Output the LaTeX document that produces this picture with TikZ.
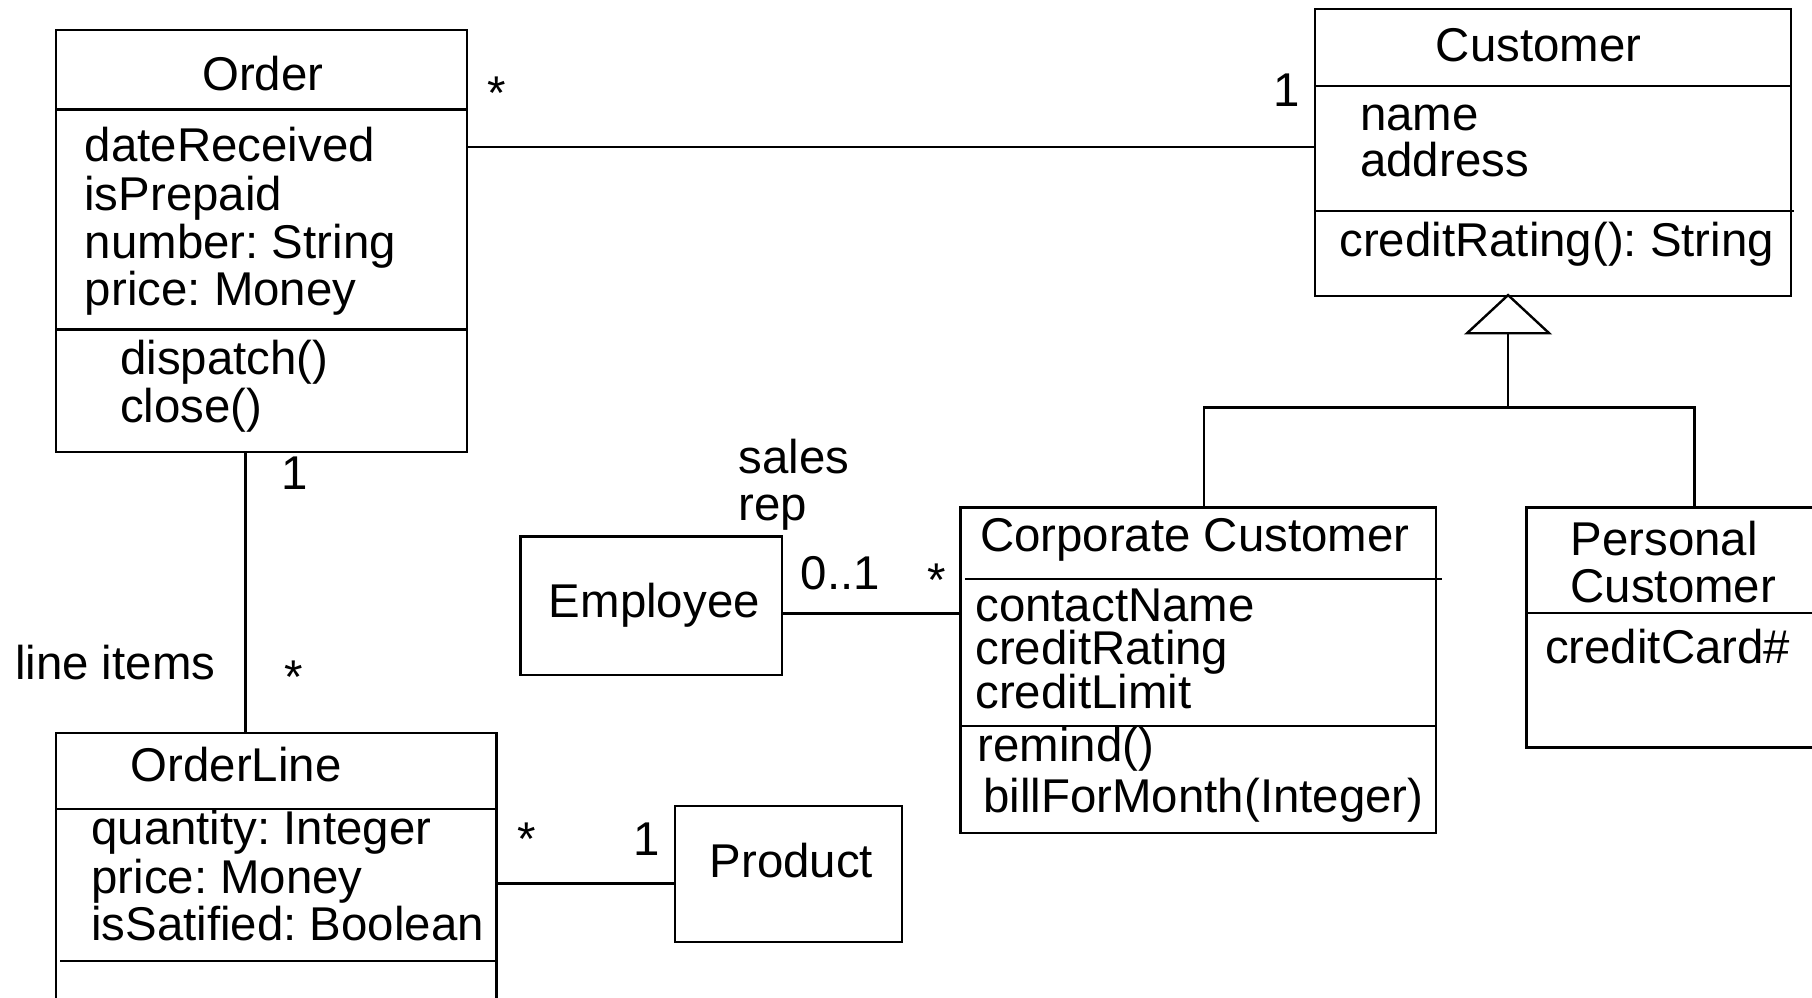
\documentclass[tikz,border=0pt]{standalone}
\usepackage{fontspec}
\setmainfont{Liberation Sans}
\usetikzlibrary{fit,arrows.meta}
\frenchspacing
\begin{document}
\begin{tikzpicture}[x=0.5778pt,y=-0.5778pt, line width=1.2pt,
  box/.style={draw, rectangle, inner sep=0pt},
  txt/.style={inner sep=0pt, anchor=base west, font=\fontsize{23.7pt}{28pt}\selectfont},
  lbl/.style={inner sep=0pt, anchor=base, font=\fontsize{23.7pt}{28pt}\selectfont},
  conn/.style={draw, line width=1.2pt}]
\clip (0,0) rectangle (1568,863);
\fill[white] (0,0) rectangle (1568,863);

% ---- boxes ----
\node[box, fit={(48.7,26) (404,390.9)}] (order) {};
\draw (order.west |- 0,94.6) -- (order.east |- 0,94.6);
\draw (order.west |- 0,285) -- (order.east |- 0,285);

\node[box, fit={(1138,8) (1550,256)}] (cust) {};
\draw (cust.west |- 0,74.4) -- (cust.east |- 0,74.4);
\draw (cust.west |- 0,182.6) -- (1552.6,182.6);

\node[box, fit={(831,439) (1242.6,721)}] (corp) {};
\draw (835,501) -- (1247.7,501);
\draw (corp.west |- 0,628.3) -- (corp.east |- 0,628.3);

\node[box, fit={(1320.8,439.3) (1640,646.7)}] (pers) {};
\draw (pers.west |- 0,530.6) -- (pers.east |- 0,530.6);

\node[box, fit={(450.4,464.4) (676.9,584.3)}] (emp) {};
\node[box, fit={(584,697.4) (780.5,815.2)}] (prod) {};

\node[box, fit={(48.7,634.5) (429.6,920)}] (ol) {};
\draw (ol.west |- 0,699.8) -- (ol.east |- 0,699.8);
\draw (52.3,831.4) -- (ol.east |- 0,831.4);

% ---- connectors ----
\coordinate (ocY) at (0,127.2);
\draw[conn] (order.east |- ocY) -- (cust.west |- ocY);
\draw[conn] (212.3,0 |- order.south) -- (212.3,0 |- ol.north);
\draw[conn] (emp.east |- 0,531) -- (corp.west |- 0,531);
\draw[conn] (ol.east |- 0,764.4) -- (prod.west |- 0,764.4);

\coordinate (gj) at (1305,352.5);
\draw[conn, shorten >=-1.8pt, -{Triangle[open, length=20.5pt, width=43.9pt]}] (gj) -- (1305,0 |- cust.south);
\draw[conn] (1041.9,0 |- corp.north) |- (gj) -| (1466.4,0 |- pers.north);

% ---- texts ----
\node[txt] (tOrder) at (174,78) {Order};
\node[txt] (tO1) at (72.5,140) {dateReceived};
\node[txt] (tO2) at (72,182) {isPrepaid};
\node[txt] (tO3) at (72.5,223.5) {number: String};
\node[txt] (tO4) at (72.5,264) {price: Money};
\node[txt] (tO5) at (103,324.5) {dispatch()};
\node[txt] (tO6) at (103,366) {close()};

\node[txt] (tCust) at (1241.5,53.4) {Customer};
\node[txt] (tC1) at (1176,112.5) {name};
\node[txt] (tC2) at (1176,153) {address};
\node[txt] (tC3) at (1158,222) {creditRating(): String};

\node[txt] (tCorp) at (847,477.4) {Corporate Customer};
\node[txt] (tK1) at (843,538) {contactName};
\node[txt] (tK2) at (843,575) {creditRating};
\node[txt] (tK3) at (843,613.5) {creditLimit};
\node[txt] (tK4) at (845,659) {remind()};
\node[txt] (tK5) at (850,703.3) {billForMonth(Integer)};

\node[txt] (tP1) at (1358,480.3) {Personal};
\node[txt] (tP2) at (1358,521.5) {Customer};
\node[txt] (tP3) at (1336,573.8) {creditCard\#};

\node[txt] (tEmp) at (474,534.5) {Employee};
\node[txt] (tProd) at (613,759) {Product};

\node[txt] (tOL) at (112,676) {OrderLine};
\node[txt] (tL1) at (78,731) {quantity: Integer};
\node[txt] (tL2) at (78,773.6) {price: Money};
\node[txt] (tL3) at (78,814.2) {isSatified: Boolean};

% ---- association labels ----
\node[lbl] (m1) at (430,94.6) {*};
\node[lbl] (m2) at (1113,92.3) {1};
\node[lbl] (m3) at (255,423.8) {1};
\node[lbl] (m4) at (254,600) {*};
\node[txt] (r1) at (12,588) {line items};
\node[txt] (r2) at (638,410) {sales};
\node[txt] (r3) at (638,450) {rep};
\node[txt] (m5) at (692,510) {0..1};
\node[lbl] (m6) at (810.4,516) {*};
\node[lbl] (m7) at (456,740.5) {*};
\node[lbl] (m8) at (560,740.4) {1};
\end{tikzpicture}
\end{document}
